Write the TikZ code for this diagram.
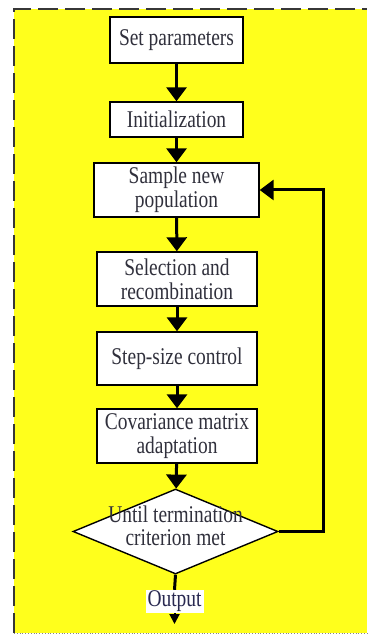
\documentclass[tikz,border=0pt]{standalone}
\usepackage{fontspec}
\setmainfont{Liberation Serif}
\newfontfamily\narrowserif[FakeStretch=0.81]{Liberation Serif}
\usetikzlibrary{arrows.meta,shapes.geometric}
\definecolor{bgyellow}{RGB}{255,255,28}
\definecolor{framegray}{RGB}{55,55,55}
\definecolor{txt}{RGB}{48,48,60}
\definecolor{outtxt}{RGB}{40,40,80}
\tikzset{
  boxfont/.style={font=\narrowserif\fontsize{24}{24}\selectfont},
  stepbox/.style={draw=black, line width=1.4pt, fill=white, text=txt,
    align=center, inner sep=0pt, boxfont},
  decision/.style={draw=black, line width=1.4pt, fill=white, text=txt,
    shape=diamond, inner sep=0pt, minimum width=205pt, minimum height=85pt,
    boxfont},
  flow/.style={line width=3pt, draw=black, -{Triangle[width=20pt,length=14pt]}},
  frame/.style={draw=framegray, line width=2pt, dash pattern=on 20pt off 7pt},
}
\begin{document}
\begin{tikzpicture}[x=1pt,y=-1pt]
\useasboundingbox (0,0) rectangle (367,636);
% background panel
\fill[bgyellow] (14,9) rectangle (367,633);
\draw[frame] (14,633) -- (14,9) -- (367,9);
\draw[draw=framegray!60, line width=0.8pt, dotted] (14,633) -- (367,633);

% process steps
\node[stepbox, minimum width=133pt, minimum height=46pt] (set) at (176.5,40) {Set parameters};
\node[stepbox, minimum width=133pt, minimum height=35pt] (init) at (176.5,119.5) {Initialization};
\node[stepbox, minimum width=165pt, minimum height=54pt] (sample) at (176.5,190) {Sample new\\population};
\node[stepbox, minimum width=160pt, minimum height=54pt] (sel) at (177,279) {Selection and\\recombination};
\node[stepbox, minimum width=160pt, minimum height=53pt] (stepsize) at (177,358.5) {Step-size control};
\node[stepbox, minimum width=160pt, minimum height=54pt] (cov) at (177,436) {Covariance matrix\\adaptation};
\node[decision] (cond) at (175.5,531.5)
  {\smash{\makebox[0pt]{\raisebox{-4pt}{\begin{tabular}{@{}c@{}}Until termination\\[-1pt]criterion met\end{tabular}}}}};
\node[fill=white, text=outtxt, inner xsep=2pt, inner ysep=1pt, boxfont] (out) at (174.5,601.5) {Output};
\coordinate (end) at (174.5,624);
\coordinate (loop) at (323,190);

% connectors
\draw[flow] (set) -- (init);
\draw[flow] (init) -- (sample);
\draw[flow] (sample) -- (sel);
\draw[flow] (sel) -- (stepsize);
\draw[flow] (stepsize) -- (cov);
\draw[flow] (cov) -- (cond);
\draw[line width=3pt] (cond.south) -- (out.north);
\draw[line width=2pt, -{Triangle[width=10pt,length=10pt]}] (out.south) -- (end);
\draw[flow] (cond.east) -| (loop) -- (sample.east);
\end{tikzpicture}
\end{document}
